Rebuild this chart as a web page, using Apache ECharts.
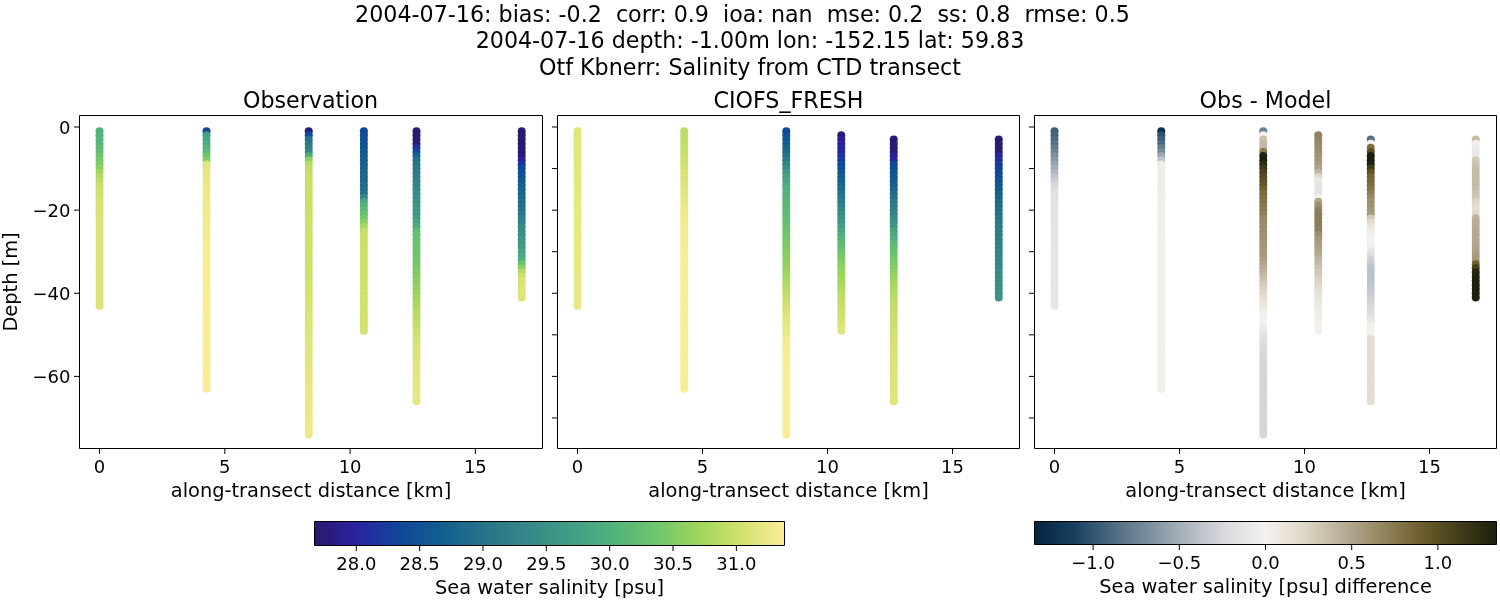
<!DOCTYPE html>
<html>
<head>
<meta charset="utf-8">
<script src="https://cdn.jsdelivr.net/npm/echarts@6/dist/echarts.min.js"></script>
<style>
  html, body { margin: 0; background: #fff; }
  #chart { width: 1500px; height: 600px; }
</style>
</head>
<body>
<div id="chart"></div>
<script>
var titleLines = [
  '2004-07-16: bias: -0.2  corr: 0.9  ioa: nan  mse: 0.2  ss: 0.8  rmse: 0.5',
  '2004-07-16 depth: -1.00m lon: -152.15 lat: 59.83',
  'Otf Kbnerr: Salinity from CTD transect'
];
var titleCenters = [742.5, 750, 750];
var panelTitles = ['Observation', 'CIOFS_FRESH', 'Obs - Model'];

// station positions along the transect [km]
var stationKm = [0, 4.27, 8.35, 10.55, 12.65, 16.85];
// first sampled depth [m] of every station, per panel
var obsStart = [1, 1, 1, 1, 1, 1];
var modelStart = [1, 1, 1, 2, 3, 3];

// salinity, one value per metre of depth
var obs0 = [30.02,30.05,30.08,30.12,30.18,30.25,30.32,30.40,30.48,30.58,
  30.70,30.80,30.88,30.95,30.99,31.02,31.04,31.05,31.06,31.07,
  31.08,31.08,31.09,31.09,31.09,31.10,31.10,31.10,31.10,31.10,
  31.10,31.10,31.10,31.10,31.10,31.10,31.10,31.10,31.10,31.10,
  31.10,31.10,31.10];
var obs1 = [28.35,29.70,29.85,29.95,30.05,30.15,30.30,30.50,31.15,31.17,
  31.19,31.20,31.21,31.22,31.23,31.24,31.25,31.26,31.27,31.28,
  31.28,31.29,31.29,31.30,31.30,31.31,31.31,31.32,31.32,31.33,
  31.33,31.33,31.33,31.34,31.34,31.34,31.34,31.34,31.35,31.35,
  31.35,31.35,31.35,31.35,31.35,31.36,31.36,31.36,31.36,31.36,
  31.36,31.36,31.36,31.36,31.36,31.36,31.36,31.36,31.36,31.36,
  31.36,31.36,31.36];
var obs2 = [27.75,28.40,28.95,29.10,29.20,29.35,29.90,30.55,30.85,30.92,
  30.95,30.96,30.97,30.98,30.98,30.98,30.99,30.99,30.99,30.99,
  30.99,30.99,31.00,31.00,31.00,31.00,31.00,31.00,31.00,31.00,
  31.00,31.01,31.01,31.01,31.01,31.02,31.02,31.03,31.03,31.04,
  31.05,31.06,31.07,31.08,31.09,31.09,31.10,31.11,31.11,31.12,
  31.13,31.14,31.14,31.15,31.16,31.16,31.17,31.17,31.18,31.18,
  31.19,31.19,31.20,31.20,31.21,31.21,31.22,31.22,31.23,31.23,
  31.24,31.24,31.25,31.25];
var obs3 = [28.35,28.40,28.45,28.50,28.55,28.60,28.65,28.68,28.72,28.75,
  28.78,28.82,28.85,28.90,28.95,29.00,29.30,29.85,30.05,30.15,
  30.25,30.40,30.55,30.72,30.88,30.95,30.97,30.98,30.98,30.99,
  30.99,31.00,31.00,31.00,31.00,31.01,31.01,31.01,31.02,31.02,
  31.02,31.02,31.03,31.03,31.03,31.04,31.04,31.05,31.05];
var obs4 = [27.72,27.72,27.73,27.74,28.10,28.35,28.70,28.95,29.05,29.10,
  29.15,29.20,29.25,29.30,29.35,29.40,29.45,29.50,29.55,29.60,
  29.65,29.70,29.80,29.90,30.15,30.25,30.28,30.30,30.32,30.34,
  30.36,30.38,30.40,30.43,30.46,30.50,30.54,30.58,30.62,30.66,
  30.70,30.74,30.78,30.82,30.85,30.88,30.92,30.95,30.98,31.00,
  31.03,31.06,31.08,31.10,31.11,31.12,31.13,31.14,31.15,31.16,
  31.17,31.18,31.18,31.19,31.20,31.20];
var obs5 = [27.70,27.70,27.70,27.71,27.71,27.72,27.72,27.95,28.15,28.35,
  28.45,28.50,28.60,28.70,28.75,28.80,28.85,28.90,28.95,29.00,
  29.10,29.18,29.25,29.35,29.42,29.50,29.58,29.65,29.72,29.80,
  29.88,30.00,30.30,30.55,30.85,31.00,31.06,31.10,31.12,31.13,
  31.13];

var model0 = [31.15,31.15,31.16,31.16,31.16,31.17,31.17,31.17,31.17,31.18,
  31.18,31.18,31.18,31.18,31.19,31.19,31.19,31.19,31.19,31.20,
  31.20,31.20,31.20,31.20,31.20,31.20,31.21,31.21,31.21,31.21,
  31.21,31.21,31.21,31.21,31.22,31.22,31.22,31.22,31.22,31.22,
  31.22,31.22,31.22];
var model1 = [30.90,30.91,30.92,30.93,30.94,30.96,30.98,31.00,31.02,31.04,
  31.06,31.08,31.10,31.12,31.13,31.15,31.17,31.19,31.21,31.23,
  31.25,31.28,31.29,31.29,31.30,31.30,31.31,31.31,31.32,31.32,
  31.33,31.33,31.33,31.33,31.33,31.33,31.33,31.33,31.33,31.33,
  31.33,31.33,31.33,31.33,31.33,31.33,31.33,31.33,31.33,31.33,
  31.33,31.33,31.33,31.33,31.33,31.33,31.33,31.33,31.33,31.33,
  31.33,31.33,31.33];
var model2 = [28.35,28.45,28.55,28.65,28.75,28.85,28.95,29.10,29.25,29.45,
  29.60,29.75,29.85,29.92,30.00,30.03,30.06,30.09,30.12,30.14,
  30.17,30.20,30.24,30.28,30.32,30.36,30.40,30.44,30.47,30.50,
  30.53,30.57,30.60,30.64,30.67,30.72,30.77,30.82,30.86,30.90,
  30.95,30.99,31.03,31.07,31.10,31.13,31.16,31.20,31.23,31.25,
  31.27,31.30,31.31,31.32,31.33,31.34,31.34,31.35,31.36,31.36,
  31.36,31.36,31.36,31.36,31.36,31.36,31.36,31.36,31.36,31.36,
  31.36,31.36,31.36,31.36];
var model3 = [27.75,27.85,27.95,28.00,28.05,28.15,28.25,28.35,28.45,28.55,
  28.65,28.72,28.80,28.87,28.95,29.02,29.15,29.25,29.33,29.42,
  29.50,29.60,29.72,29.85,29.95,30.05,30.15,30.22,30.30,30.38,
  30.45,30.52,30.60,30.64,30.68,30.72,30.76,30.80,30.85,30.90,
  30.92,30.94,30.97,31.00,31.03,31.06,31.10,31.15];
var model4 = [27.72,27.72,27.72,27.72,27.90,28.00,28.35,28.42,28.48,28.55,
  28.62,28.70,28.78,28.90,28.98,29.05,29.13,29.22,29.30,29.40,
  29.50,29.62,29.78,29.90,30.00,30.10,30.20,30.26,30.32,30.40,
  30.45,30.51,30.58,30.64,30.70,30.74,30.78,30.82,30.86,30.90,
  30.91,30.93,30.95,30.97,30.99,31.00,31.02,31.03,31.04,31.05,
  31.06,31.07,31.08,31.09,31.10,31.10,31.11,31.11,31.11,31.12,
  31.12,31.12,31.13,31.13];
var model5 = [27.72,27.72,27.72,27.72,28.00,28.10,28.20,28.28,28.35,28.42,
  28.50,28.55,28.62,28.70,28.78,28.85,28.90,28.95,29.00,29.05,
  29.09,29.13,29.17,29.20,29.23,29.26,29.28,29.30,29.32,29.34,
  29.36,29.38,29.40,29.42,29.45,29.48,29.50,29.53,29.55];

// obs minus model, same station order
var diff0 = [-0.95,-0.92,-0.88,-0.84,-0.80,-0.74,-0.68,-0.62,-0.56,-0.50,
  -0.45,-0.38,-0.32,-0.26,-0.22,-0.19,-0.17,-0.16,-0.15,-0.15,
  -0.14,-0.14,-0.14,-0.13,-0.13,-0.13,-0.13,-0.13,-0.13,-0.12,
  -0.12,-0.12,-0.12,-0.12,-0.12,-0.12,-0.12,-0.12,-0.12,-0.12,
  -0.12,-0.12,-0.12];
var diff1 = [-1.25,-1.02,-0.95,-0.88,-0.80,-0.70,-0.55,-0.36,0.05,0.05,
  0.05,0.05,0.05,0.05,0.05,0.05,0.04,0.04,0.04,0.04,
  0.04,0.04,0.04,0.04,0.04,0.04,0.03,0.03,0.03,0.03,
  0.03,0.03,0.03,0.03,0.03,0.03,0.03,0.03,0.03,0.03,
  0.03,0.03,0.03,0.03,0.03,0.03,0.03,0.03,0.03,0.03,
  0.03,0.03,0.03,0.03,0.03,0.03,0.03,0.03,0.03,0.03,
  0.03,0.03,0.03];
var diff2 = [-0.75,0.00,0.35,0.38,0.40,0.75,1.30,1.33,1.25,1.15,
  1.08,1.03,1.00,0.95,0.88,0.82,0.80,0.78,0.76,0.74,
  0.70,0.66,0.64,0.63,0.62,0.61,0.60,0.59,0.58,0.57,
  0.56,0.54,0.50,0.46,0.42,0.38,0.34,0.30,0.26,0.22,
  0.18,0.14,0.10,0.06,0.03,0.02,0.00,-0.04,-0.10,-0.14,
  -0.17,-0.19,-0.21,-0.23,-0.24,-0.25,-0.26,-0.26,-0.26,-0.26,
  -0.26,-0.26,-0.26,-0.26,-0.26,-0.26,-0.26,-0.26,-0.26,-0.26,
  -0.26,-0.26,-0.26,-0.26];
var diff3 = [0.70,0.68,0.66,0.64,0.62,0.60,0.58,0.56,0.50,0.40,
  0.22,-0.10,-0.13,-0.15,-0.15,0.02,0.50,0.62,0.68,0.72,
  0.72,0.72,0.72,0.70,0.62,0.58,0.55,0.52,0.50,0.46,
  0.40,0.37,0.34,0.31,0.28,0.25,0.22,0.19,0.15,0.12,
  0.10,0.08,0.06,0.04,0.03,0.02,0.01,0.00];
var diff4 = [-0.85,0.00,0.80,1.00,1.35,1.35,1.35,1.12,0.98,0.88,
  0.85,0.82,0.78,0.72,0.66,0.62,0.60,0.58,0.55,0.30,
  0.20,0.12,0.05,0.02,0.00,0.00,-0.04,-0.12,-0.22,-0.28,
  -0.32,-0.36,-0.38,-0.38,-0.38,-0.36,-0.34,-0.32,-0.30,-0.28,
  -0.26,-0.24,-0.20,-0.15,-0.10,0.02,0.02,0.02,0.17,0.17,
  0.17,0.17,0.17,0.17,0.17,0.17,0.17,0.17,0.17,0.17,
  0.17,0.17,0.17,0.17];
var diff5 = [0.38,0.02,-0.06,-0.10,-0.10,0.30,0.34,0.36,0.38,0.38,
  0.38,0.37,0.36,0.34,0.32,0.24,0.18,0.16,0.22,0.42,
  0.45,0.46,0.47,0.47,0.47,0.48,0.50,0.52,0.56,0.56,
  0.90,1.10,1.28,1.30,1.32,1.32,1.32,1.32,1.32];

var obsValues = [obs0, obs1, obs2, obs3, obs4, obs5];
var modelValues = [model0, model1, model2, model3, model4, model5];
var diffValues = [diff0, diff1, diff2, diff3, diff4, diff5];

var xTicks = [0, 5, 10, 15];
var yLabelTicks = [0, -20, -40, -60];
var yPlainTicks = [0, -10, -20, -30, -40, -50, -60, -70];
var salinityTicks = [28, 28.5, 29, 29.5, 30, 30.5, 31];
var diffTicks = [-1, -0.5, 0, 0.5, 1];

var xMin = -0.8, xMax = 17.68;
var depthMin = -77.35, depthMax = 2.77;
var salinityMin = 27.67, salinityMax = 31.38;
var diffMin = -1.34, diffMax = 1.34;

// colour ramps, evenly spaced
var halineColors = ['#29186b', '#2a23a0', '#0f4799', '#125f8e', '#267489', '#358888',
  '#419d85', '#51b27c', '#6fc66b', '#a0d65b', '#d4e170', '#fdee99'];
var diffColors = ['#07223f', '#153f5e', '#4a6880', '#7d909e', '#aeb7c0', '#dadcdf', '#f5f1ee',
  '#dfd8c9', '#b8ae97', '#94875f', '#6f5f2e', '#433d19', '#1c1e0e'];

var fontFamily = 'DejaVu Sans';
var tickFont = 18;
var nameFont = 19.4;

function minusSign(v) {
  return String(v).replace('-', '\u2212');
}

function oneDecimal(v) {
  return minusSign(v.toFixed(1));
}

// one [km, depth, value] row for every sample, station after station
function buildRows(values, starts) {
  var rows = [];
  for (var s = 0; s < values.length; s++) {
    for (var i = 0; i < values[s].length; i++) {
      rows.push([stationKm[s], -(starts[s] + i), values[s][i]]);
    }
  }
  return rows;
}

function gradientOf(colors) {
  var stops = [];
  for (var i = 0; i < colors.length; i++) {
    stops.push({ offset: i / (colors.length - 1), color: colors[i] });
  }
  return new echarts.graphic.LinearGradient(0, 0, 1, 0, stops);
}

// axisTick drops the marks that fall on auto label values, so ticks are small black marks on the axes
function xTickSeries(axisIndex, ticks, yValue) {
  return {
    type: 'scatter', xAxisIndex: axisIndex, yAxisIndex: axisIndex, clip: false, silent: true, animation: false,
    symbol: 'rect', symbolSize: [1, 5], symbolOffset: [0, 3], itemStyle: { color: '#000', opacity: 1 },
    data: ticks.map(function (t) { return [t, yValue]; })
  };
}

function yTickSeries(axisIndex, ticks, xValue) {
  return {
    type: 'scatter', xAxisIndex: axisIndex, yAxisIndex: axisIndex, clip: false, silent: true, animation: false,
    symbol: 'rect', symbolSize: [5, 1], symbolOffset: [-3, 0], itemStyle: { color: '#000', opacity: 1 },
    data: ticks.map(function (t) { return [xValue, t]; })
  };
}

var panelLeft = [79.5, 557.5, 1034.5];
var panelWidth = [463, 462, 462];
var panelRows = [buildRows(obsValues, obsStart), buildRows(modelValues, modelStart), buildRows(diffValues, modelStart)];

var grids = [], xAxes = [], yAxes = [], series = [], titles = [];

titleLines.forEach(function (line, i) {
  titles.push({
    text: line, left: titleCenters[i], top: 5 + i * 26.6, textAlign: 'center', padding: 0,
    textStyle: { fontFamily: fontFamily, fontSize: 22.2, fontWeight: 'normal', color: '#000' }
  });
});

panelTitles.forEach(function (name, p) {
  titles.push({
    text: name, left: panelLeft[p] + 231, top: 91, textAlign: 'center', padding: 0,
    textStyle: { fontFamily: fontFamily, fontSize: 22.2, fontWeight: 'normal', color: '#000' }
  });
  grids.push({
    left: panelLeft[p], top: 115.5, width: panelWidth[p], height: 333, show: true,
    borderColor: '#000', borderWidth: 1, backgroundColor: '#fff'
  });
  xAxes.push({
    type: 'value', gridIndex: p, min: xMin, max: xMax,
    name: 'along-transect distance [km]', nameLocation: 'middle', nameGap: 34,
    nameTextStyle: { fontFamily: fontFamily, fontSize: nameFont, color: '#000' },
    axisLine: { show: false, onZero: false }, splitLine: { show: false }, axisTick: { show: false },
    axisLabel: { customValues: xTicks, fontFamily: fontFamily, fontSize: tickFont, color: '#000', margin: 11 }
  });
  yAxes.push({
    type: 'value', gridIndex: p, min: depthMin, max: depthMax,
    name: p === 0 ? 'Depth [m]' : '', nameLocation: 'middle', nameGap: 58,
    nameTextStyle: { fontFamily: fontFamily, fontSize: nameFont, color: '#000' },
    axisLine: { show: false, onZero: false }, splitLine: { show: false }, axisTick: { show: false },
    axisLabel: {
      show: p === 0, customValues: yLabelTicks, fontFamily: fontFamily, fontSize: tickFont, color: '#000', margin: 9,
      verticalAlign: 'top', lineHeight: 4,
      formatter: minusSign
    }
  });
  series.push({
    type: 'scatter', xAxisIndex: p, yAxisIndex: p, symbolSize: 8,
    itemStyle: { opacity: 1 },
    data: panelRows[p], animation: false, silent: true
  });
});

// colour bars: a grid of their own with the ramp as background
function addColorBar(left, width, height, min, max, ticks, label, colors) {
  var idx = grids.length;
  grids.push({
    left: left, top: 521.5, width: width, height: height, show: true,
    borderColor: '#000', borderWidth: 1, backgroundColor: gradientOf(colors)
  });
  xAxes.push({
    type: 'value', gridIndex: idx, min: min, max: max,
    name: label, nameLocation: 'middle', nameGap: 34,
    nameTextStyle: { fontFamily: fontFamily, fontSize: nameFont, color: '#000' },
    axisLine: { show: false, onZero: false }, splitLine: { show: false }, axisTick: { show: false },
    axisLabel: { customValues: ticks, fontFamily: fontFamily, fontSize: tickFont, color: '#000', margin: 11, formatter: oneDecimal }
  });
  yAxes.push({ type: 'value', gridIndex: idx, min: 0, max: 1, show: false });
  series.push(xTickSeries(idx, ticks, 0));
}

addColorBar(314.5, 470, 24, salinityMin, salinityMax, salinityTicks, 'Sea water salinity [psu]', halineColors);
addColorBar(1034.5, 462, 23, diffMin, diffMax, diffTicks, 'Sea water salinity [psu] difference', diffColors);

panelTitles.forEach(function (name, p) {
  series.push(xTickSeries(p, xTicks, depthMin));
  series.push(yTickSeries(p, p === 0 ? yLabelTicks : yPlainTicks, xMin));
});

var chart = echarts.init(document.getElementById('chart'), null, { renderer: 'canvas' });
chart.setOption({
  backgroundColor: '#fff',
  animation: false,
  title: titles,
  grid: grids,
  xAxis: xAxes,
  yAxis: yAxes,
  visualMap: [
    { show: false, type: 'continuous', seriesIndex: [0, 1], dimension: 2, min: salinityMin, max: salinityMax, inRange: { color: halineColors } },
    { show: false, type: 'continuous', seriesIndex: 2, dimension: 2, min: diffMin, max: diffMax, inRange: { color: diffColors } }
  ],
  series: series
});
</script>
</body>
</html>
